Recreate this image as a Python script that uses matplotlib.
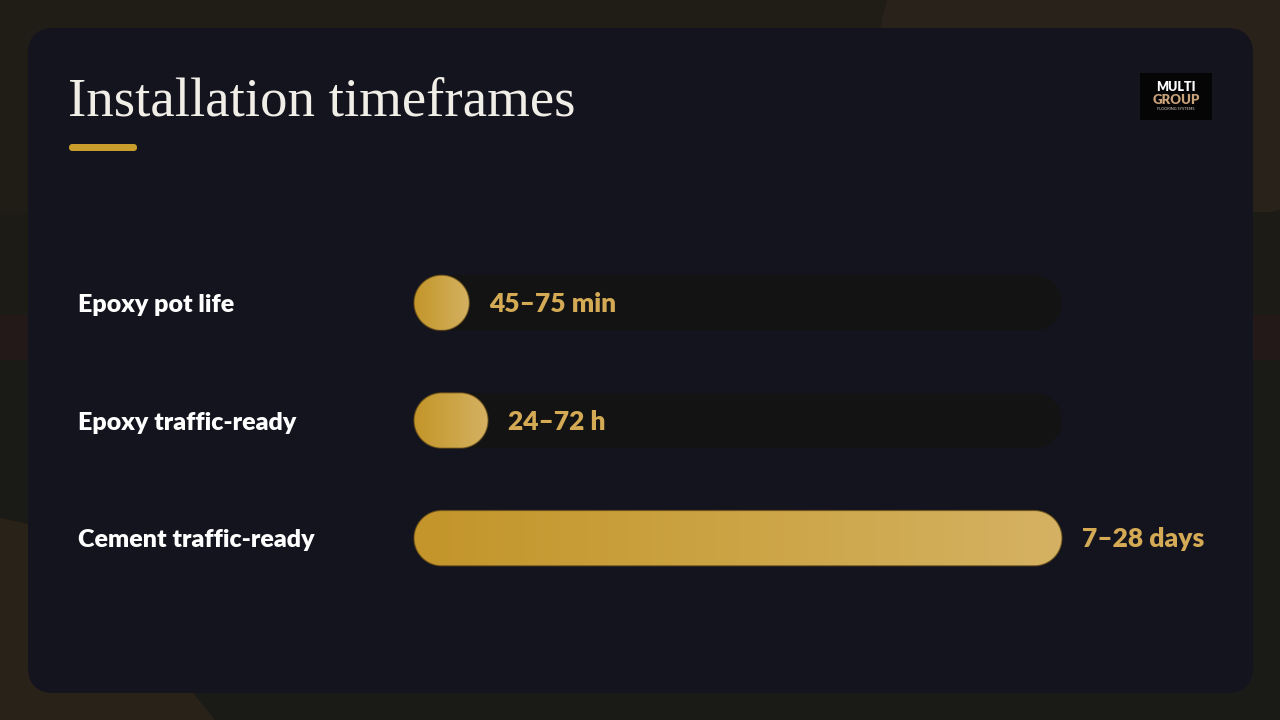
import numpy as np
import matplotlib
matplotlib.use("Agg")
import matplotlib.pyplot as plt
from matplotlib.patches import FancyBboxPatch, Rectangle, Polygon, Ellipse, PathPatch
from matplotlib.path import Path
from matplotlib.transforms import IdentityTransform
from matplotlib.colors import LinearSegmentedColormap

# ---------------- data ----------------
categories = ["Epoxy pot life", "Epoxy traffic-ready", "Cement traffic-ready"]
value_labels = ["45–75 min", "24–72 h", "7–28 days"]
midpoint_hours = [1.0, 48.0, 420.0]      # midpoints: 60 min, 48 h, 17.5 days
scale_max_hours = 420.0
title = "Installation timeframes"

# ---------------- styling ----------------
W, H = 1280, 720
fig = plt.figure(figsize=(12.8, 7.2), dpi=100)
fig.patch.set_facecolor("#1a1a17")

bg = fig.add_axes([0, 0, 1, 1])
bg.set_xlim(0, W)
bg.set_ylim(H, 0)
bg.axis("off")

# decorative background blobs
bg.add_patch(Rectangle((0, 0), W, 212, fc="#201d16", ec="none"))
bg.add_patch(Ellipse((1180, 40), 600, 360, fc="#28221a", ec="none"))
bg.add_patch(Rectangle((0, 212), W, 103, fc="#1d1b16", ec="none"))
bg.add_patch(Rectangle((0, 315), W, 45, fc="#221918", ec="none"))
bg.add_patch(Polygon([(0, 518), (80, 535), (150, 640), (215, 720), (0, 720)],
                     closed=True, fc="#292218", ec="none"))

# card
bg.add_patch(FancyBboxPatch((28, 28), 1225, 665,
                            boxstyle="round,pad=0,rounding_size=26",
                            fc="#14141f", ec="none"))

# title + underline
bg.text(68, 116, title, fontsize=39.5, family="Liberation Serif",
        color="#f1eee8", va="baseline", ha="left")
bg.add_patch(FancyBboxPatch((69, 144), 68, 7,
                            boxstyle="round,pad=0,rounding_size=3.5",
                            fc="#c99d2c", ec="none"))

# logo
bg.add_patch(Rectangle((1140, 73), 72, 47, fc="#050505", ec="none"))
bg.text(1176, 87, "MULTI", fontsize=9, fontweight="heavy", family="Lato",
        color="#ffffff", ha="center", va="center")
bg.text(1176, 99.5, "GROUP", fontsize=9.5, fontweight="heavy", family="Lato",
        color="#c9a27a", ha="center", va="center")
bg.text(1176, 109.5, "FLOORING SYSTEMS", fontsize=2.8, family="Lato",
        color="#d8d0c0", ha="center", va="center")


def stadium(x0, y0, w, h, n=60):
    r = h / 2.0
    cy = y0 + r
    t1 = np.linspace(-np.pi / 2, np.pi / 2, n)
    t2 = np.linspace(np.pi / 2, 3 * np.pi / 2, n)
    right = np.column_stack([x0 + w - r + r * np.cos(t1), cy + r * np.sin(t1)])
    left = np.column_stack([x0 + r + r * np.cos(t2), cy + r * np.sin(t2)])
    verts = np.vstack([right, left, right[:1]])
    codes = [Path.MOVETO] + [Path.LINETO] * (len(verts) - 2) + [Path.CLOSEPOLY]
    return Path(verts, codes)


# ---------------- bars ----------------
ax = fig.add_axes([414 / W, (H - 597) / H, 648 / W, 353 / H])
ax.set_xlim(0, scale_max_hours)
ax.set_ylim(len(categories) - 0.5, -0.5)
ax.axis("off")

gold = LinearSegmentedColormap.from_list("gold", ["#c3952a", "#cca445", "#d5b263"])
grad = np.linspace(0, 1, 256).reshape(1, -1)
bar_h = 0.47

for i, (cat, lab, v) in enumerate(zip(categories, value_labels, midpoint_hours)):
    (x0d, y0d) = ax.transData.transform((0, i + bar_h / 2))
    (x1d, y1d) = ax.transData.transform((scale_max_hours, i - bar_h / 2))
    hd = y1d - y0d
    track = PathPatch(stadium(x0d, y0d, x1d - x0d, hd),
                      transform=IdentityTransform(), fc="#131314",
                      ec="none", clip_on=False)
    ax.add_patch(track)

    xv = ax.transData.transform((v, i))[0]
    wd = max(xv - x0d, hd)
    v_eff = ax.transData.inverted().transform((x0d + wd, y0d))[0]
    fill = PathPatch(stadium(x0d, y0d, wd, hd),
                     transform=IdentityTransform(), fc="none",
                     ec="none", clip_on=False)
    ax.add_patch(fill)
    im = ax.imshow(grad, extent=(0, v_eff, i + bar_h / 2, i - bar_h / 2),
                   aspect="auto", cmap=gold, interpolation="bicubic",
                   zorder=2)
    im.set_clip_path(fill)
    edge = PathPatch(stadium(x0d, y0d, wd, hd),
                     transform=IdentityTransform(), fc="none",
                     ec="#6b5018", lw=0.9, alpha=0.7, zorder=3,
                     clip_on=False)
    ax.add_patch(edge)

    ax.annotate(lab, xy=(v_eff, i), xytext=(20, -9), textcoords="offset pixels",
                va="baseline", ha="left", fontsize=19, fontweight="heavy",
                family="Lato", color="#d4aa55", annotation_clip=False)
    ax.annotate(cat, xy=((78 - 414) / 648, i), xycoords=ax.get_yaxis_transform(),
                xytext=(0, -9), textcoords="offset pixels",
                va="baseline", ha="left", fontsize=18, fontweight="heavy",
                family="Lato", color="#ffffff", annotation_clip=False)

ax.set_xlim(0, scale_max_hours)
ax.set_ylim(len(categories) - 0.5, -0.5)

fig.savefig("out.png", dpi=100, facecolor=fig.get_facecolor())
